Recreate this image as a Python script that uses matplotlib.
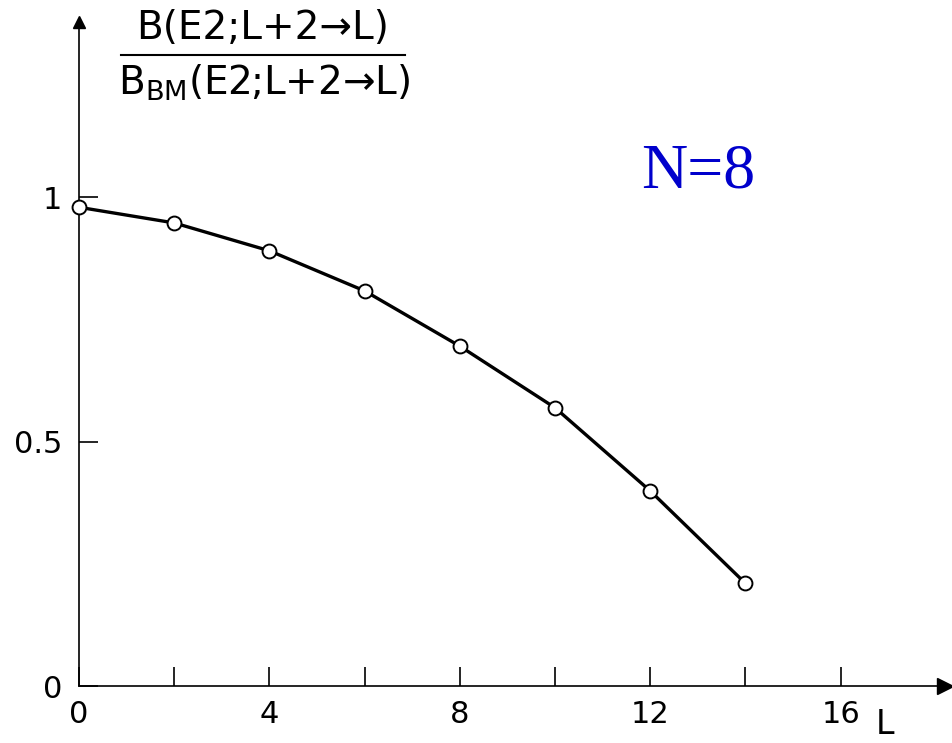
import numpy as np
import matplotlib
matplotlib.use("Agg")
import matplotlib.pyplot as plt
from matplotlib.lines import Line2D

# values
L = [0, 2, 4, 6, 8, 10, 12, 14]
ratio = [0.979, 0.947, 0.890, 0.808, 0.695, 0.569, 0.399, 0.210]
xticks = [0, 2, 4, 6, 8, 10, 12, 14, 16]
xticklabels = ['0', '', '4', '', '8', '', '12', '', '16']
yticks = [0, 0.5, 1]
yticklabels = ['0', '0.5', '1']

W, H = 953, 743
plt.rcParams['font.family'] = ['DejaVu Sans']
plt.rcParams['mathtext.default'] = 'regular'

fig = plt.figure(figsize=(W / 100, H / 100), dpi=100)

# axes placed in pixel units of the reference
x0, y0, x1, y1 = 79, 686, 945, 22
ax = fig.add_axes([x0 / W, 1 - y0 / H, (x1 - x0) / W, (y0 - y1) / H])
ax.set_xlim(0, (x1 - x0) / 47.6)
ax.set_ylim(0, (y0 - y1) / 489.0)

for s in ['top', 'right']:
    ax.spines[s].set_visible(False)
for s in ['left', 'bottom']:
    ax.spines[s].set_linewidth(1.2)

# arrow heads at the ends of the axes
ax.plot(1, 0, '>k', ms=11, transform=ax.transAxes, clip_on=False)
ax.plot(0, 1, '^k', ms=9, transform=ax.transAxes, clip_on=False)

ax.plot(L, ratio, color='k', lw=2.4, marker='o', ms=10,
        mfc='white', mec='k', mew=1.4, clip_on=False, zorder=5)

ax.set_xticks(xticks)
ax.set_xticklabels(xticklabels)
ax.set_yticks(yticks)
ax.set_yticklabels(yticklabels)
ax.tick_params(axis='x', direction='in', length=14, width=1.2, pad=10, labelsize=22)
ax.tick_params(axis='y', direction='in', length=14, width=1.2, pad=12, labelsize=22)

# L label at the end of the x axis
fig.text(885 / W, 1 - 708 / H, 'L', fontsize=24, ha='center', va='top')

# fraction label of the y axis
fig.text(263 / W, 1 - 28 / H, 'B(E2;L+2→L)', fontsize=28, ha='center', va='center')
fig.add_artist(Line2D([121 / W, 405 / W], [1 - 55 / H, 1 - 55 / H],
                      color='k', lw=1.5, transform=fig.transFigure))
fig.text(264 / W, 1 - 83 / H, r'B$_{BM}$(E2;L+2→L)', fontsize=28, ha='center', va='center')

fig.text(698 / W, 1 - 173 / H, 'N=8', fontsize=46, color='#0000CC',
         family='Liberation Serif', ha='center', va='center')

fig.savefig('out.png', dpi=100)
